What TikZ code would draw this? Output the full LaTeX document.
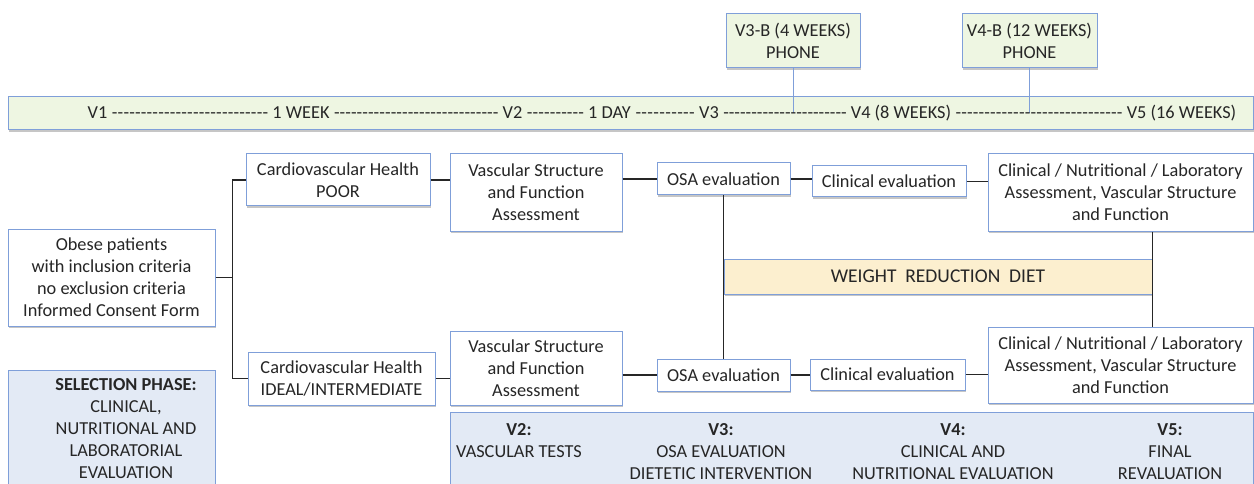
\documentclass[tikz,border=0pt]{standalone}
\usepackage{fontspec}
\setmainfont{Carlito}
\usetikzlibrary{shadows,calc}
\definecolor{bord}{HTML}{7F9FD9}
\definecolor{lgreen}{HTML}{EEF6E2}
\definecolor{lyel}{HTML}{FCEFCF}
\definecolor{lblue}{HTML}{E3EAF5}
\definecolor{txt}{HTML}{262626}
\newcommand{\dashfill}[3]{%
  \path let \p1=(#1.base east), \p2=(#2.base west) in
    node[lbl,anchor=base west] (#3) at (\p1) {\hbox to \dimexpr\x2-\x1\relax{\xleaders\hbox{-}\hfill}};}
\begin{document}
\begin{tikzpicture}[x=1pt,y=-1pt,
  box/.style={draw=bord,line width=1pt,fill=white,text=txt,align=center,inner sep=0pt,
    font=\fontsize{18.3}{22}\selectfont,
    drop shadow={shadow xshift=1.2pt,shadow yshift=-2.4pt,opacity=0.45}},
  conn/.style={line width=1.7pt,black!85},
  pline/.style={draw=bord,line width=0.9pt},
  lbl/.style={text=txt,align=center,inner sep=0pt,font=\fontsize{18.3}{22}\selectfont},
  barlbl/.style={lbl,anchor=base,inner xsep=4pt,inner ysep=1pt}]
\clip (0,0) rectangle (1254,484);
% top phone boxes and timeline
\node[box,fill=lgreen,minimum width=134pt,minimum height=54pt] (v3b) at (793,41) {V3-B (4 WEEKS)\\PHONE};
\node[box,fill=lgreen,minimum width=135pt,minimum height=54pt] (v4b) at (1029.5,41) {V4-B (12 WEEKS)\\PHONE};
\node[box,fill=lgreen,minimum width=1245pt,minimum height=33pt] (bar) at (630.5,113.5) {};
\draw[pline] (v3b.south) -- (v3b.south |- bar.center);
\draw[pline] (v4b.south) -- (v4b.south |- bar.center);
\node[barlbl] (t1) at (97.5,119) {V1};
\node[barlbl] (t2) at (301,119) {1 WEEK};
\node[barlbl] (t3) at (512.5,119) {V2};
\node[barlbl] (t4) at (609.5,119) {1 DAY};
\node[barlbl] (t5) at (709,119) {V3};
\node[barlbl] (t6) at (901,119) {V4 (8 WEEKS)};
\node[barlbl] (t7) at (1181.5,119) {V5 (16 WEEKS)};
\dashfill{t1}{t2}{d1}
\dashfill{t2}{t3}{d2}
\dashfill{t3}{t4}{d3}
\dashfill{t4}{t5}{d4}
\dashfill{t5}{t6}{d5}
\dashfill{t6}{t7}{d6}
% main flow
\node[box,minimum width=207pt,minimum height=97pt] (obese) at (111.5,277.5) {Obese patients\\with inclusion criteria\\no exclusion criteria\\Informed Consent Form};
\node[box,minimum width=184pt,minimum height=52pt] (poor) at (338,180) {Cardiovascular Health\\POOR};
\node[box,minimum width=187pt,minimum height=53pt] (ideal) at (341.5,378.5) {Cardiovascular Health\\IDEAL/INTERMEDIATE};
\node[box,minimum width=172pt,minimum height=77pt] (vsfa1) at (536,192.5) {Vascular Structure\\and Function\\Assessment};
\node[box,minimum width=172pt,minimum height=74pt] (vsfa2) at (536,368) {Vascular Structure\\and Function\\Assessment};
\node[box,minimum width=133pt,minimum height=32pt] (osa1) at (723.5,179) {OSA evaluation};
\node[box,minimum width=133pt,minimum height=32pt] (osa2) at (723.5,375) {OSA evaluation};
\node[box,minimum width=154pt,minimum height=31pt] (clin1) at (889,181.5) {Clinical evaluation};
\node[box,minimum width=155pt,minimum height=31pt] (clin2) at (887.5,374.5) {Clinical evaluation};
\node[box,minimum width=265pt,minimum height=77pt] (cnl1) at (1120.5,192.5) {Clinical / Nutritional / Laboratory\\Assessment, Vascular Structure\\and Function};
\node[box,minimum width=265pt,minimum height=76pt] (cnl2) at (1120.5,365) {Clinical / Nutritional / Laboratory\\Assessment, Vascular Structure\\and Function};
\node[box,fill=lyel,minimum width=428pt,minimum height=35pt,font=\fontsize{19.5}{22}\selectfont] (diet) at (938,276.5) {WEIGHT\ \ REDUCTION\ \ DIET};
% connectors
\draw[conn] (obese.east) -- +(17,0) |- (poor.west);
\draw[conn] (obese.east) -- +(17,0) |- (ideal.west);
\draw[conn] (poor.east) -- (poor.east -| vsfa1.west);
\draw[conn] (osa1.west -| vsfa1.east) -- (osa1.west);
\draw[conn] (osa1.east) -- (osa1.east -| clin1.west);
\draw[conn] (clin1.east) -- (clin1.east -| cnl1.west);
\draw[conn] (ideal.east) -- (ideal.east -| vsfa2.west);
\draw[conn] (osa2.west -| vsfa2.east) -- (osa2.west);
\draw[conn] (osa2.east) -- (osa2.east -| clin2.west);
\draw[conn] (clin2.east) -- (clin2.east -| cnl2.west);
\draw[conn] (osa1.south) -- (osa2.north);
\draw[conn] (cnl1.south -| diet.east) -- (cnl2.north -| diet.east);
% phase boxes
\node[box,fill=lblue,minimum width=207pt,minimum height=125pt] (sel) at (111.5,432.5) {};
\node[lbl] (selt) at (126,429) {\textbf{SELECTION PHASE:}\\CLINICAL,\\NUTRITIONAL AND\\LABORATORIAL\\EVALUATION};
\node[box,fill=lblue,minimum width=803pt,minimum height=80pt] (info) at (851.5,452) {};
\node[lbl] (c2) at (519,441) {\textbf{V2:}\\VASCULAR TESTS};
\node[lbl] (c3) at (721,452) {\textbf{V3:}\\OSA EVALUATION\\DIETETIC INTERVENTION};
\node[lbl] (c4) at (953,452) {\textbf{V4:}\\CLINICAL AND\\NUTRITIONAL EVALUATION};
\node[lbl] (c5) at (1170,452) {\textbf{V5:}\\FINAL\\REVALUATION};
\end{tikzpicture}
\end{document}
